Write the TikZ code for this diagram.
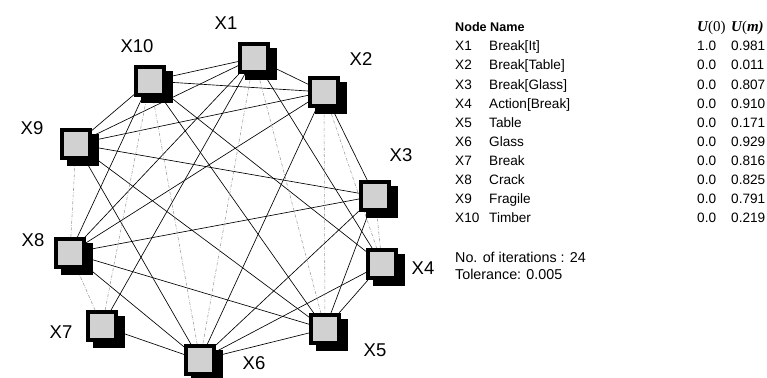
\documentclass[tikz,border=0pt]{standalone}
\usepackage{fontspec}
\setmainfont{Liberation Sans}
\newfontfamily\uvarfont{Liberation Serif}
\usetikzlibrary{backgrounds}

\tikzset{
  cell/.style={draw=black, line width=4.4pt, fill=black!18, minimum size=27.6pt,
    inner sep=0pt, preaction={draw=white, line width=5.2pt}},
  cellshadow/.style={fill=black, minimum size=32pt, inner sep=0pt},
  tag/.style={font=\fontsize{18.5}{18.5}\selectfont, inner sep=0pt},
  link/.style={line width=0.65pt, black},
  weak/.style={line width=0.55pt, black!40,
    dash pattern=on 3pt off 1.5pt on 0.6pt off 1.5pt},
  row/.style={font=\fontsize{13.6}{13.6}\selectfont, anchor=base west, inner sep=0pt},
  head/.style={row, font=\fontsize{12.6}{12.6}\selectfont\bfseries},
  uhead/.style={row, font=\fontsize{15}{15}\selectfont},
  note/.style={row, font=\fontsize{14.3}{14.3}\selectfont},
}

% a node box with its drop shadow
\newcommand\cellat[3]{%
  \node[cellshadow] at (#2+7,#3+6) {};
  \node[cell] (#1) at (#2,#3) {};}

\newcommand\uvar[1]{{\uvarfont\bfseries\itshape U}{\uvarfont(#1)}}

\begin{document}
\begin{tikzpicture}[x=1pt, y=-1pt]
\useasboundingbox (0,0) rectangle (767,377);

% network nodes
\cellat{X1}{254}{58}
\cellat{X2}{324}{92}
\cellat{X3}{375}{196}
\cellat{X4}{382}{264}
\cellat{X5}{325}{329}
\cellat{X6}{200}{360}
\cellat{X7}{102}{326}
\cellat{X8}{70}{253}
\cellat{X9}{76}{144}
\cellat{X10}{150}{81}

% node labels
\node[tag] (l1)  at (226,23)  {X1};
\node[tag] (l2)  at (361,59)  {X2};
\node[tag] (l3)  at (401,155) {X3};
\node[tag] (l4)  at (423,268) {X4};
\node[tag] (l5)  at (375,350) {X5};
\node[tag] (l6)  at (254,363) {X6};
\node[tag] (l7)  at (61,332)  {X7};
\node[tag] (l8)  at (33,240)  {X8};
\node[tag] (l9)  at (32,128)  {X9};
\node[tag] (l10) at (137,46)  {X10};

% connections, behind the boxes
\begin{pgfonlayer}{background}
  \foreach \a/\b in {X1/X2, X1/X10, X1/X9, X1/X8, X1/X7, X1/X4,
                     X2/X10, X2/X9, X2/X8, X2/X6, X2/X3,
                     X3/X9, X3/X8, X3/X6, X3/X5,
                     X4/X10, X4/X6, X4/X5,
                     X5/X9, X5/X8, X5/X10, X5/X6,
                     X6/X7, X6/X8, X6/X9,
                     X8/X10, X9/X10}
    \draw[link] (\a) -- (\b);
  \foreach \a/\b in {X1/X6, X1/X5, X2/X5, X2/X4, X3/X4,
                     X6/X10, X7/X10, X7/X8, X8/X9}
    \draw[weak] (\a) -- (\b);
\end{pgfonlayer}

% result table
\node[head]  (hnode) at (455,32) {Node};
\node[head]  (hname) at (490,32) {Name};
\node[uhead] (hu0)   at (697,32) {\uvar{0}};
\node[uhead] (hum)   at (731,32) {\uvar{\bfseries\itshape m}};

\foreach \i/\nm/\u/\v in {1/Break[It]/1.0/0.981,
                          2/Break[Table]/0.0/0.011,
                          3/Break[Glass]/0.0/0.807,
                          4/Action[Break]/0.0/0.910,
                          5/Table/0.0/0.171,
                          6/Glass/0.0/0.929,
                          7/Break/0.0/0.816,
                          8/Crack/0.0/0.825,
                          9/Fragile/0.0/0.791,
                          10/Timber/0.0/0.219} {
  \pgfmathsetmacro\yy{32+19*\i}
  \node[row] (rid\i) at (455,\yy) {X\i};
  \node[row] (rnm\i) at (489,\yy) {\nm};
  \node[row] (ru\i)  at (697,\yy) {\u};
  \node[row] (rv\i)  at (731,\yy) {\v};
}

\node[note] (iter) at (455,262) {No. of iterations : 24};
\node[note] (tol)  at (455,279) {Tolerance: 0.005};
\end{tikzpicture}
\end{document}
